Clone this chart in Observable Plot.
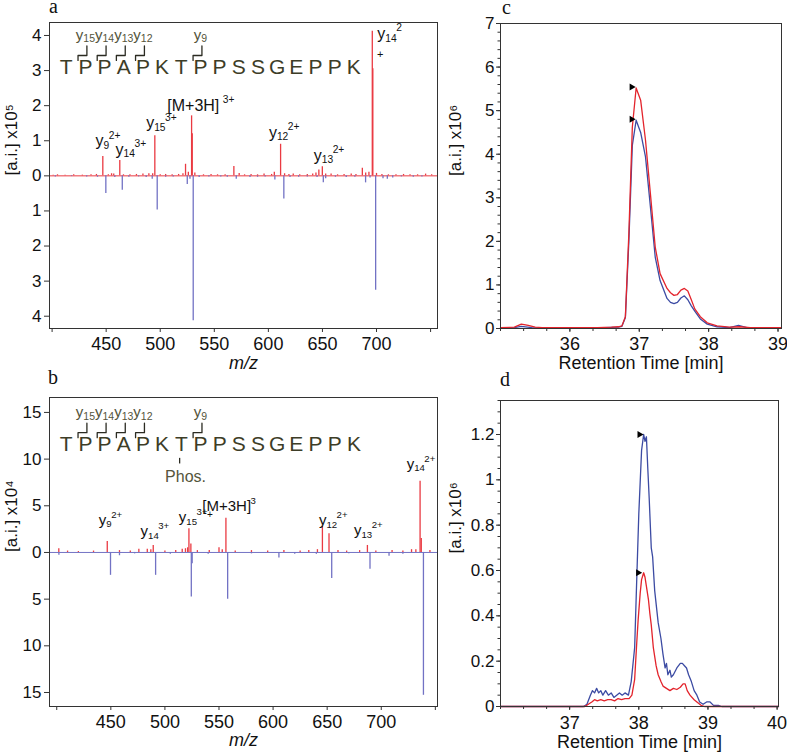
<!DOCTYPE html>
<html><head><meta charset="utf-8">
<script src="https://cdn.jsdelivr.net/npm/d3@7"></script>
<script src="https://cdn.jsdelivr.net/npm/@observablehq/plot@0.6"></script>
<style>
body{margin:0;background:#fff;}
#wrap{position:relative;width:787px;height:754px;overflow:hidden;background:#fff;font-family:"Liberation Sans",Arial,sans-serif;}
.panel{position:absolute;}
.lab{position:absolute;font-family:"Liberation Serif","Times New Roman",serif;font-size:20px;line-height:8px;color:#111;}
</style></head>
<body><div id="wrap"></div>
<script>
// ---------- DATA ----------
// Panel a spectrum (x10^5)
const redA_mz  = [401,405,412,420,428,436,441,446.9,452,455,457,462.6,466,472,478,484,489.5,493,495.0,500,505,511,517,521,523.4,526,529.0,529.6,532,540,547,553,560,568.1,573,578,584,590,596,603,605.5,611.3,615,619,623,629,636,641,644,646.7,649.9,653,658,664,670,676.6,681,686.9,690,693.0,696.1,696.6,700,705,711,718,725,731,738,745.4,751];
const redA_int = [0.02,0.03,0.02,0.03,0.02,0.03,0.04,0.55,0.03,0.06,0.05,0.44,0.03,0.03,0.04,0.05,0.06,0.06,1.14,0.03,0.04,0.03,0.04,0.06,0.33,0.1,1.71,1.2,0.08,0.03,0.04,0.03,0.03,0.27,0.07,0.03,0.04,0.03,0.05,0.04,0.1,0.9,0.06,0.04,0.05,0.03,0.04,0.05,0.08,0.17,0.26,0.05,0.05,0.03,0.04,0.05,0.04,0.22,0.08,0.1,4.12,3.05,0.07,0.04,0.03,0.03,0.04,0.03,0.03,0.05,0.03];
const blueA_mz  = [403,418,432,442,449.7,458,464.9,471,480,487,492.6,497.2,505,512,525.0,527.5,530.5,536,545,556,562,570.3,583,590,597,606,614.3,620,628,636,645,650.8,653,662,672,680,689.9,694,699.2,706,710,715,723,734,742];
const blueA_int = [0.03,0.02,0.03,0.04,0.5,0.05,0.41,0.04,0.03,0.05,0.1,0.97,0.04,0.03,0.25,0.1,4.13,0.05,0.03,0.03,0.04,0.1,0.05,0.04,0.03,0.12,0.66,0.05,0.04,0.03,0.05,0.2,0.08,0.04,0.05,0.04,0.2,0.06,3.26,0.08,0.1,0.06,0.03,0.04,0.03];
// Panel b spectrum (x10^4)
const redB_mz  = [401.9,410,420,434,446.7,458,468,475.9,483.7,487,489.2,500,510,516,519,521,522.2,524,530,541,550,553,556.4,565,580,595,610,625,633,641,645.6,651.7,660,668,680,687.2,695,710,720,728,732,735.9,737,745];
const redB_int = [0.4,0.15,0.1,0.15,1.18,0.2,0.15,0.35,0.35,0.3,0.75,0.15,0.2,0.35,0.4,0.5,2.53,0.9,0.2,0.2,0.5,0.3,3.67,0.15,0.2,0.15,0.2,0.15,0.2,0.3,2.82,2.0,0.2,0.15,0.2,0.75,0.15,0.2,0.15,0.3,0.3,7.63,1.5,0.2];
const blueB_mz  = [402,449.7,458,472,491.4,505,524.4,525.2,540,558,580,605.4,620,640,654.2,670,689.6,707.2,720,739];
const blueB_int = [0.3,2.45,0.35,0.15,2.45,0.2,4.77,1.2,0.2,5.0,0.15,0.6,0.2,0.2,2.8,0.15,1.8,0.4,0.2,15.3];
// Panel c chromatograms (x10^6)
const redC_t  = [35.0,35.2,35.3,35.4,35.5,35.6,36.0,36.4,36.6,36.7,36.75,36.8,36.85,36.9,36.955,37.02,37.09,37.16,37.23,37.3,37.4,37.45,37.5,37.55,37.6,37.65,37.7,37.75,37.8,37.88,37.98,38.12,38.3,38.45,38.6,39.05];
const redC_v  = [0.02,0.03,0.1,0.07,0.03,0.02,0.02,0.02,0.03,0.04,0.06,0.27,2.18,4.62,5.52,5.24,4.32,3.1,1.87,1.26,0.92,0.82,0.76,0.78,0.88,0.92,0.86,0.66,0.45,0.27,0.13,0.06,0.03,0.04,0.02,0.02];
const blueC_t = [35.0,35.2,35.3,35.45,36.0,36.5,36.7,36.75,36.8,36.85,36.9,36.955,37.02,37.09,37.16,37.23,37.3,37.4,37.45,37.5,37.55,37.6,37.65,37.7,37.75,37.8,37.88,37.98,38.12,38.3,38.43,38.55,39.05];
const blueC_v = [0.01,0.02,0.05,0.02,0.01,0.02,0.03,0.05,0.25,2.0,4.2,4.78,4.5,3.94,2.8,1.64,1.1,0.69,0.6,0.57,0.6,0.7,0.75,0.66,0.52,0.4,0.22,0.1,0.04,0.02,0.07,0.02,0.01];
// Panel d chromatograms (x10^6)
const blueD_t = [36.0,37.2,37.25,37.3,37.33,37.36,37.39,37.42,37.45,37.48,37.52,37.56,37.6,37.64,37.68,37.72,37.76,37.8,37.85,37.89,37.94,37.97,38.0,38.04,38.07,38.09,38.11,38.13,38.15,38.18,38.2,38.23,38.28,38.32,38.35,38.38,38.4,38.42,38.45,38.47,38.5,38.55,38.6,38.63,38.66,38.69,38.72,38.76,38.8,38.84,38.88,38.93,38.98,39.03,39.08,39.15,39.2,40.02];
const blueD_v = [0,0,0.01,0.05,0.07,0.06,0.08,0.06,0.07,0.05,0.07,0.05,0.06,0.04,0.05,0.06,0.05,0.06,0.05,0.11,0.26,0.56,0.85,1.13,1.2,1.17,1.19,1.05,0.92,0.7,0.66,0.51,0.37,0.3,0.23,0.17,0.19,0.14,0.16,0.13,0.14,0.17,0.19,0.19,0.18,0.17,0.14,0.11,0.07,0.05,0.02,0.01,0.02,0.02,0.005,0.005,0,0];
const redD_t  = [36.0,37.22,37.27,37.32,37.36,37.4,37.45,37.5,37.55,37.6,37.65,37.7,37.75,37.8,37.86,37.9,37.94,37.97,37.99,38.02,38.04,38.07,38.09,38.11,38.14,38.16,38.18,38.21,38.25,38.28,38.32,38.35,38.4,38.45,38.5,38.55,38.6,38.64,38.67,38.7,38.74,38.8,38.84,38.9,38.95,40.02];
const redD_v  = [0,0,0.01,0.02,0.03,0.025,0.03,0.025,0.03,0.03,0.025,0.035,0.03,0.035,0.035,0.05,0.12,0.28,0.38,0.5,0.56,0.59,0.57,0.53,0.47,0.41,0.36,0.26,0.18,0.14,0.11,0.09,0.08,0.07,0.08,0.075,0.085,0.1,0.1,0.07,0.05,0.03,0.02,0.005,0,0];
// Apex markers
const apexC_t = [36.89, 36.89], apexC_v = [5.54, 4.8];
const apexD_t = [38.01, 37.99], apexD_v = [1.2, 0.59];
// Peptide sequence and fragment labels
const seqLetters = ["T","P","P","A","P","K","T","P","P","S","S","G","E","P","P","K"];
const fragNum = ["15","14","13","12","9"];
const fragSite = [1,2,3,4,7];
// Peak annotations: base text, subscript, superscript, gap before superscript, position
const annA_base = ["y","y","y","[M+3H]","y","y","y"];
const annA_sub  = ["9","14","15","","12","13","14"];
const annA_sup  = ["2+","3+","3+","3+","2+","2+","2"];
const annA_gap  = [0,0,0,4,0,0,0];
const annA_x = [440.2,458.7,487.0,506.5,600.5,642.0,700.7];
const annA_y = [0.84,0.60,1.35,1.86,1.09,0.43,3.90];
const annB_base = ["y","y","y","[M+3H]","y","y","y"];
const annB_sub  = ["9","14","15","","12","13","14"];
const annB_sup  = ["2+","3+","3+","3","2+","2+","2+"];
const annB_gap  = [0,0,0,0,0,0,0];
const annB_x = [438.9,477.5,512.9,534.6,642.4,674.8,723.5];
const annB_y = [2.96,1.75,3.24,4.42,2.89,1.82,8.95];
// Tick values
const mzTicks = [400,450,500,550,600,650,700,750];
const yTicksA = [-4,-3,-2,-1,0,1,2,3,4];
const yTicksB = [-15,-10,-5,0,5,10,15];
const xTicksC = [36,37,38,39];
const xTicksD = [37,38,39,40];
const yTicksC = [0,1,2,3,4,5,6,7];
const yTicksD = [0,0.2,0.4,0.6,0.8,1,1.2];

// ---------- STYLE ----------
const FONT = "Liberation Sans, Arial, sans-serif";
const RED_S = "#ea3a42", BLUE_S = "#7272c4";
const RED_C = "#e3242c", BLUE_C = "#3c4ba3";
const FRAME = "#333";
const SEQ = "#3d3d27", SEQLAB = "#55553c";

const ctx = document.createElement("canvas").getContext("2d");
function tw(s, size) { ctx.font = size + "px 'Liberation Sans', Arial, sans-serif"; return ctx.measureText(s).width; }

const zipPeaks = (mz, v, sign) => mz.map((m, i) => ({mz: m, v: sign * v[i]}));
const zipLine = (t, v) => t.map((x, i) => ({t: x, v: v[i]}));
const zipAnn = (b, s, p, g, x, y) => b.map((t, i) => ({base: t, sub: s[i], sup: p[i], gap: g[i], x: x[i], y: y[i]}));

// base text + subscript + superscript, drawn as separate Plot.text marks
function rich(items, o) {
  const ss = o.size * (o.ratio || 0.64);
  const marks = [];
  items.forEach(a => {
    const wb = tw(a.base, o.size) + (a.gap || 0);
    const ws = a.sub ? tw(a.sub, ss) : 0;
    const start = o.center ? -(wb + ws) / 2 : 0;
    const common = {x: "x", y: "y", textAnchor: "start", lineAnchor: "bottom", fill: o.fill};
    marks.push(Plot.text([a], {...common, text: d => d.base, dx: start, fontSize: o.size}));
    if (a.sub) marks.push(Plot.text([a], {...common, text: d => d.sub, dx: start + wb, dy: o.size * 0.16, fontSize: ss}));
    if (a.sup) marks.push(Plot.text([a], {...common, text: d => d.sup, dx: start + wb + ws - 0.5, dy: -o.size * 0.47, fontSize: ss}));
  });
  return marks;
}

function header(p) {
  const letters = seqLetters.map((s, i) => ({s, x: p.x0 + p.step * i, y: p.yLetter}));
  const br = [];
  fragSite.forEach((k, j) => {
    const xc = p.x0 + p.step * k;
    const xv = xc + 1.4, xl = xc - 6.8;
    br.push({f: j, x: xv, y: p.yTop}, {f: j, x: xv, y: p.yH}, {f: j, x: xl, y: p.yH}, {f: j, x: xl, y: p.yTick});
  });
  const labs = fragSite.map((k, j) => ({base: "y", sub: fragNum[j], sup: "", gap: 0, x: p.x0 + p.step * k, y: p.yLabel}));
  return [
    Plot.line(br, {x: "x", y: "y", z: "f", stroke: "#2b2b22", strokeWidth: 1.3}),
    Plot.text(letters, {x: "x", y: "y", text: "s", fontSize: 21, fill: SEQ, lineAnchor: "middle"}),
    ...rich(labs, {size: 15, ratio: 0.7, fill: SEQLAB, center: true})
  ];
}

function spectrum(o) {
  return Plot.plot({
    width: 440, height: o.height,
    marginLeft: 49, marginRight: 3, marginTop: o.mt, marginBottom: o.mb,
    style: {fontFamily: FONT, background: "transparent", overflow: "visible", color: "#111"},
    x: {domain: o.xdom},
    y: {domain: o.ydom},
    marks: [
      Plot.ruleY([0], {stroke: o.baseColor, strokeWidth: 1}),
      Plot.ruleX(o.blue, {x: "mz", y1: 0, y2: "v", stroke: BLUE_S, strokeWidth: 1.3}),
      Plot.ruleX(o.red, {x: "mz", y1: 0, y2: "v", stroke: RED_S, strokeWidth: 1.3}),
      ...header(o.head),
      ...o.extra,
      ...rich(o.ann, {size: o.annSize, fill: "#111"}),
      Plot.frame({stroke: FRAME, strokeWidth: 1}),
      Plot.axisX({ticks: mzTicks, tickFormat: d => (d >= 450 && d <= 700 ? d : ""), tickSize: 4, tickPadding: 5, fontSize: 18, label: null, stroke: FRAME}),
      Plot.axisY({ticks: o.yticks, tickFormat: d => Math.abs(d), tickSize: 5, tickPadding: 3, fontSize: 17, label: null, stroke: FRAME}),
      Plot.text(["m/z"], {frameAnchor: "bottom", dy: o.mzDy, fontSize: 18, fontStyle: "italic", text: d => d}),
      Plot.text([o.ylabel], {frameAnchor: "left", dx: -38, rotate: -90, fontSize: 17, text: d => d})
    ]
  });
}

function chrom(o) {
  return Plot.plot({
    width: 347, height: o.height,
    marginLeft: 60, marginRight: o.mr, marginTop: o.mt, marginBottom: o.mb,
    style: {fontFamily: FONT, background: "transparent", overflow: "visible", color: "#111"},
    x: {domain: o.xdom},
    y: {domain: o.ydom},
    marks: [
      Plot.line(o.blue, {x: "t", y: "v", stroke: BLUE_C, strokeWidth: 1.3}),
      Plot.line(o.red, {x: "t", y: "v", stroke: RED_C, strokeWidth: 1.3}),
      Plot.dot(o.apex, {x: "t", y: "v", symbol: "triangle", rotate: 90, r: 2.6, fill: "#000", stroke: null}),
      Plot.frame({stroke: FRAME, strokeWidth: 1}),
      Plot.axisX(o.xminor, {tickSize: 3, text: null, label: null, stroke: FRAME}),
      Plot.axisY(o.yminor, {tickSize: 2.5, text: null, label: null, stroke: FRAME}),
      Plot.axisX({ticks: o.xticks, tickFormat: d => d, tickSize: 4, tickPadding: o.xpad, fontSize: 18, label: null, stroke: FRAME}),
      Plot.axisY({ticks: o.yticks, tickFormat: o.yfmt, tickSize: 4, tickPadding: 2, fontSize: 17, label: null, stroke: FRAME}),
      Plot.text(["Retention Time [min]"], {frameAnchor: "bottom", dy: o.labDy, fontSize: 18, text: d => d}),
      Plot.text(["[a.i.] x10⁶"], {frameAnchor: "left", dx: -45, rotate: -90, fontSize: 17, text: d => d})
    ]
  });
}

// ---------- BUILD ----------
const wrap = document.getElementById("wrap");
function place(el, left, top) {
  const d = document.createElement("div");
  d.className = "panel"; d.style.left = left + "px"; d.style.top = top + "px";
  d.appendChild(el); wrap.appendChild(d);
}
function letter(s, left, top) {
  const d = document.createElement("div");
  d.className = "lab"; d.textContent = s; d.style.left = left + "px"; d.style.top = top + "px";
  wrap.appendChild(d);
}

const plotA = spectrum({
  height: 375, mt: 22, mb: 47, xdom: [397.6, 756.4], ydom: [-4.35, 4.37],
  red: zipPeaks(redA_mz, redA_int, 1), blue: zipPeaks(blueA_mz, blueA_int, -1),
  baseColor: RED_S, yticks: yTicksA, ann: zipAnn(annA_base, annA_sub, annA_sup, annA_gap, annA_x, annA_y), annSize: 16,
  head: {x0: 413.05, step: 17.73, yLetter: 3.1, yLabel: 3.87, yTop: 3.7, yH: 3.43, yTick: 3.29},
  extra: [Plot.text([{t: "+", x: 700.5, y: 3.37}], {x: "x", y: "y", text: "t", textAnchor: "start", lineAnchor: "bottom", fontSize: 11, fill: "#111"})],
  mzDy: 40, ylabel: "[a.i.] x10⁵"
});
place(plotA, 0, 0);

const phos = [{t: "Phos.", x: 519.1, y: 7.5}];
const phosTick = [{x: 513.6, y1: 10.08, y2: 9.48}];
const plotB = spectrum({
  height: 377, mt: 20, mb: 48, xdom: [393.3, 752], ydom: [-16.5, 16.6],
  red: zipPeaks(redB_mz, redB_int, 1), blue: zipPeaks(blueB_mz, blueB_int, -1),
  baseColor: BLUE_S, yticks: yTicksB, ann: zipAnn(annB_base, annB_sub, annB_sup, annB_gap, annB_x, annB_y), annSize: 15,
  head: {x0: 408.75, step: 17.73, yLetter: 11.6, yLabel: 14.49, yTop: 13.85, yH: 12.83, yTick: 12.3},
  extra: [
    Plot.text(phos, {x: "x", y: "y", text: "t", fontSize: 16, fill: SEQLAB, lineAnchor: "bottom"}),
    Plot.ruleX(phosTick, {x: "x", y1: "y1", y2: "y2", stroke: "#2b2b22", strokeWidth: 1.3}),
    Plot.text([{t: "+", x: 539.0, y: 3.72}], {x: "x", y: "y", text: "t", textAnchor: "start", lineAnchor: "bottom", fontSize: 10, fill: "#111"})
  ],
  mzDy: 39, ylabel: "[a.i.] x10⁴"
});
place(plotB, 0, 377);

const fmtD = d => String(+d.toFixed(1));
const plotC = chrom({
  height: 375, mr: 6, mt: 23, mb: 47, xdom: [35, 39.05], ydom: [0, 7],
  red: zipLine(redC_t, redC_v), blue: zipLine(blueC_t, blueC_v),
  apex: zipLine(apexC_t, apexC_v),
  xticks: xTicksC, yticks: yTicksC, yfmt: d => d,
  xminor: d3.range(0, 13).map(i => 35 + i / 3), yminor: d3.range(0, 36).map(i => i * 0.2),
  xpad: 5, labDy: 40
});
place(plotC, 440, 0);

const plotD = chrom({
  height: 377, mr: 9, mt: 23, mb: 48, xdom: [36, 40.02], ydom: [0, 1.35],
  red: zipLine(redD_t, redD_v), blue: zipLine(blueD_t, blueD_v),
  apex: zipLine(apexD_t, apexD_v),
  xticks: xTicksD, yticks: yTicksD, yfmt: fmtD,
  xminor: d3.range(0, 13).map(i => 36 + i / 3), yminor: d3.range(0, 28).map(i => i * 0.05),
  xpad: 6, labDy: 41
});
place(plotD, 440, 377);

letter("a", 49, 2);
letter("b", 48, 373);
letter("c", 502, 3);
letter("d", 500, 375);
</script>
</body></html>
